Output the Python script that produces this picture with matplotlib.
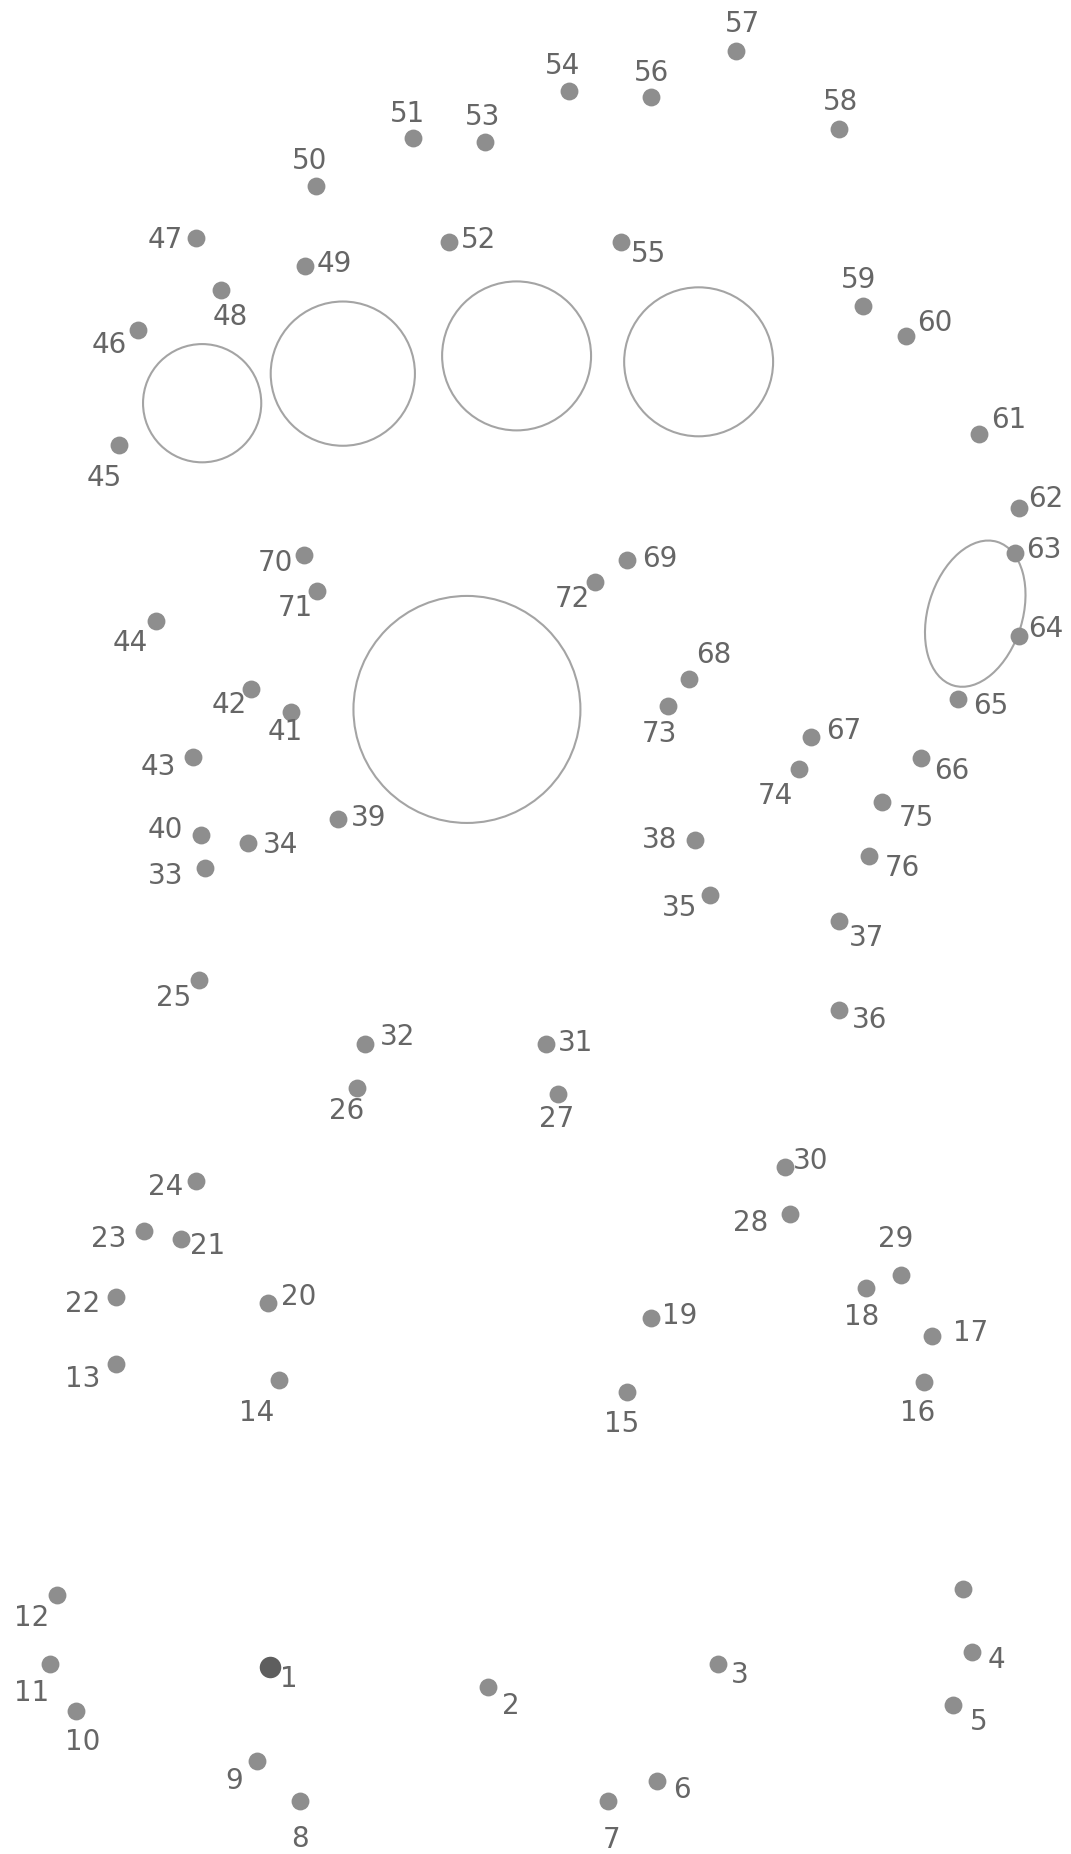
import matplotlib.pyplot as plt
from matplotlib.patches import Circle, Ellipse

# dot positions in picture units (906 x 1568 grid, y grows downward)
dot_label = [str(i) for i in range(1, 77)] + [""]
dot_x = [228, 413, 607, 822, 806, 556, 514, 254, 217, 64,
         42, 48, 98, 236, 530, 782, 788, 733, 551, 227,
         153, 98, 122, 166, 168, 302, 472, 668, 762, 664,
         462, 309, 173, 210, 601, 710, 710, 588, 286, 170,
         246, 212, 163, 132, 101, 117, 166, 187, 258, 267,
         349, 380, 410, 481, 525, 551, 623, 710, 730, 766,
         828, 862, 859, 862, 810, 779, 686, 583, 530, 257,
         268, 503, 565, 676, 746, 735, 815]
dot_y = [1410, 1427, 1407, 1397, 1442, 1506, 1523, 1523, 1489, 1447,
         1407, 1349, 1154, 1167, 1177, 1169, 1130, 1089, 1115, 1102,
         1048, 1097, 1041, 999, 829, 920, 925, 1027, 1078, 987,
         883, 883, 734, 713, 757, 854, 779, 710, 693, 706,
         602, 583, 640, 525, 376, 279, 201, 245, 225, 157,
         117, 205, 120, 77, 205, 82, 43, 109, 259, 284,
         367, 430, 468, 538, 591, 641, 623, 574, 474, 469,
         500, 492, 597, 650, 678, 724, 1344]

# where each number sits relative to its dot (picture units)
label_off = [(16, 10), (19, 16), (19, 10), (21, 7), (22, 14), (21, 8), (3, 33), (0, 32), (-19, 17), (6, 26),
             (-15, 25), (-21, 19), (-28, 12), (-19, 28), (-4, 27), (-6, 26), (33, -3), (-4, 25), (24, -2), (26, -5),
             (23, 6), (-28, 6), (-30, 7), (-26, 5), (-21, 15), (-9, 20), (-1, 21), (-33, 7), (-4, -30), (22, -5),
             (25, -1), (27, -6), (-33, 7), (27, 2), (-26, 11), (26, 9), (23, 14), (-30, 0), (26, -1), (-30, -4),
             (-5, 17), (-18, 13), (-29, 9), (-22, 19), (-13, 28), (-25, 13), (-26, 2), (8, 23), (25, -2), (-5, -21),
             (-4, -21), (25, -2), (-2, -21), (-5, -21), (24, 10), (0, -20), (5, -23), (1, -23), (-4, -22), (25, -11),
             (25, -12), (23, -8), (24, -3), (23, -6), (28, 6), (26, 11), (28, -5), (21, -20), (28, -1), (-24, 7),
             (-18, 14), (-19, 15), (-7, 24), (-20, 23), (29, 14), (28, 10), (0, 0)]

circle_cx = [171, 290, 437, 591, 395]
circle_cy = [341, 316, 301, 306, 600]
circle_r = [50, 61, 63, 63, 96]

ell_cx, ell_cy, ell_w, ell_h, ell_angle = 825, 519, 80, 127, 17

fig = plt.figure(figsize=(10.71, 18.54), dpi=100)
ax = fig.add_axes([0, 0, 1, 1])
ax.set_xlim(0, 906)
ax.set_ylim(1568, 0)
ax.axis('off')

for cx, cy, r in zip(circle_cx, circle_cy, circle_r):
    ax.add_patch(Circle((cx, cy), r, fill=False, ec='#a4a4a4', lw=1.5))
ax.add_patch(Ellipse((ell_cx, ell_cy), ell_w, ell_h, angle=ell_angle,
                     fill=False, ec='#a4a4a4', lw=1.5))

ax.scatter(dot_x[1:], dot_y[1:], s=165, c='#8e8e8e', lw=0, zorder=3)
ax.scatter(dot_x[:1], dot_y[:1], s=240, c='#5e5e5e', lw=0, zorder=3)

for x, y, t, (dx, dy) in zip(dot_x, dot_y, dot_label, label_off):
    if t == "":
        continue
    ax.text(x + dx, y + dy, t, ha='center', va='center', fontsize=20,
            color='#666666', family='DejaVu Sans')

fig.savefig('out.png', dpi=100, facecolor='white')
